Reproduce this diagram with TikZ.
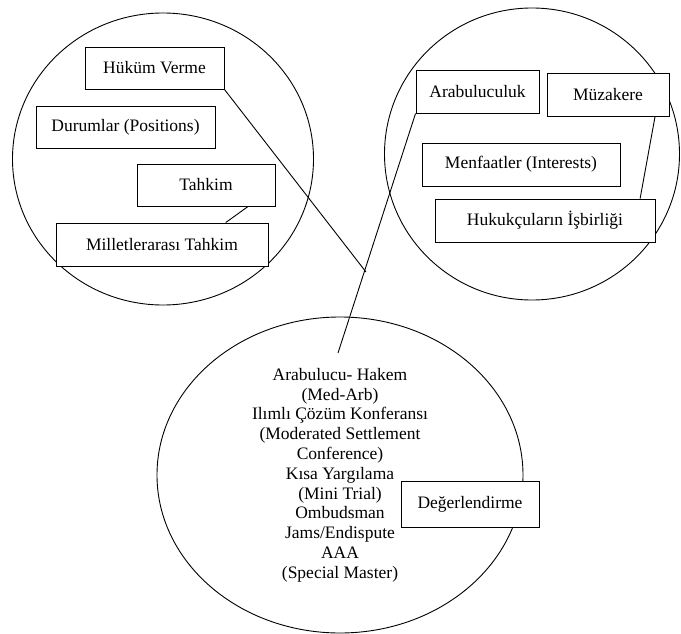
\documentclass[tikz,border=0pt]{standalone}
\usepackage{fontspec}
\setmainfont{Liberation Serif}
\usetikzlibrary{shapes.geometric}

\begin{document}
\begin{tikzpicture}[x=1pt, y=-1pt,
  grp/.style={ellipse, draw, line width=0.9pt, inner sep=0pt},
  box/.style={rectangle, draw, fill=white, line width=0.9pt, minimum height=43, inner sep=0pt, font=\fontsize{17.5}{19.8}\selectfont},
  edge/.style={line width=0.9pt}
]
\useasboundingbox (0,0) rectangle (681,634);
% three groups
\node[grp, minimum width=301, minimum height=292] (g1) at (163,159) {};
\node[grp, minimum width=295, minimum height=292] (g2) at (532,154) {};
\node[grp, minimum width=366, minimum height=316, align=center, font=\fontsize{17.5}{19.8}\selectfont] (g3) at (340,475)
  {Arabulucu- Hakem\\(Med-Arb)\\Ilımlı Çözüm Konferansı\\(Moderated Settlement\\Conference)\\Kısa Yargılama\\(Mini Trial)\\Ombudsman\\Jams/Endispute\\AAA\\(Special Master)};
% left group
\node[box, minimum width=139, minimum height=42] (hukum) at (154.5,68) {Hüküm Verme};
\node[box, minimum width=179, minimum height=42] (durum) at (125.5,127) {Durumlar (Positions)};
\node[box, minimum width=138, minimum height=42] (tahkim) at (206,185) {Tahkim};
\node[box, minimum width=212] (mtahkim) at (162,244.5) {Milletlerarası Tahkim};
% right group
\node[box, minimum width=123] (arab) at (477.5,91.5) {Arabuluculuk};
\node[box, minimum width=122] (muzak) at (608,94.5) {Müzakere};
\node[box, minimum width=198] (menf) at (521,164.5) {Menfaatler (Interests)};
\node[box, minimum width=220] (isbir) at (545,220.5) {Hukukçuların İşbirliği};
% bottom group
\node[box, minimum width=138, minimum height=46] (deger) at (470,504) {Değerlendirme};
\coordinate (e1) at (366,272);
\coordinate (e2) at (338,353);
\draw[edge] (hukum.south east) -- (e1);
\draw[edge] (tahkim.-27) -- (mtahkim.19);
\draw[edge] (muzak.-25) -- (isbir.13);
\draw[edge] (arab.south west) -- (e2);
\end{tikzpicture}
\end{document}
